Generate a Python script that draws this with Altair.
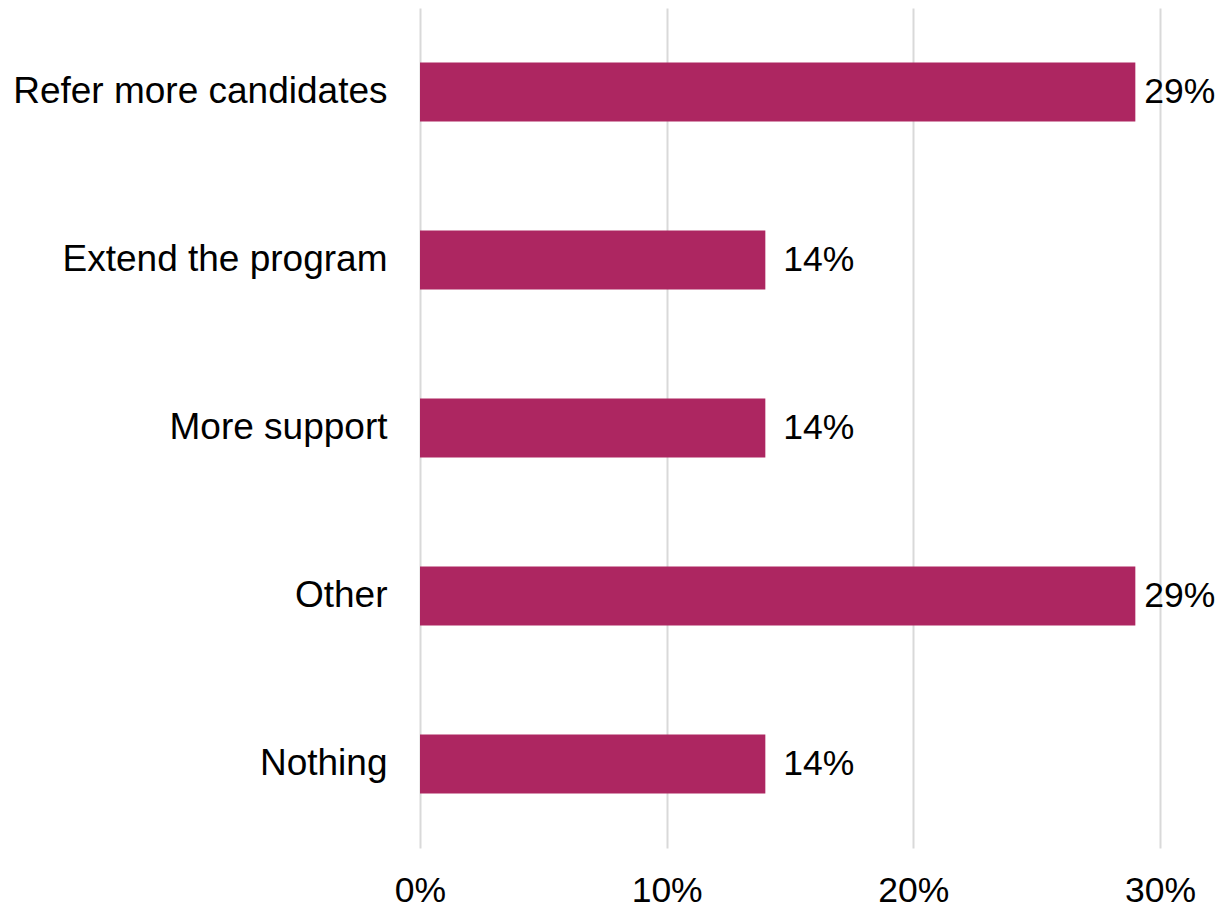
import altair as alt
import pandas as pd

categories = ["Refer more candidates", "Extend the program", "More support", "Other", "Nothing"]
values = [0.29, 0.14, 0.14, 0.29, 0.14]
labels = ["29%", "14%", "14%", "29%", "14%"]
x_ticks = [0, 0.1, 0.2, 0.3]

df = pd.DataFrame({"cat": categories, "val": values, "lab": labels})

FONT = "Liberation Sans"
FS_Y = 37
FS = 35.5

y = alt.Y("cat:N", sort=categories, title=None,
          scale=alt.Scale(paddingInner=0.65, paddingOuter=0.325),
          axis=alt.Axis(domain=False, ticks=False, grid=False, labelFontSize=FS_Y,
                        labelFont=FONT, labelColor="#000000", labelPadding=33,
                        labelLimit=600))
x = alt.X("val:Q", title=None,
          scale=alt.Scale(domain=[0, 0.3], nice=False),
          axis=alt.Axis(values=x_ticks, format=".0%", domain=False, ticks=False,
                        grid=True, gridColor="#d9d9d9", gridWidth=2,
                        labelFlush=False,
                        labelFontSize=FS, labelFont=FONT, labelColor="#000000",
                        labelPadding=25))

bars = alt.Chart(df).mark_bar(color="#AD2661").encode(x=x, y=y)
text_short = alt.Chart(df).transform_filter("datum.val < 0.25").mark_text(
    align="left", baseline="middle", dx=18,
    fontSize=FS, font=FONT, color="#000000").encode(
    x=alt.X("val:Q"), y=alt.Y("cat:N", sort=categories), text="lab:N")
text_long = alt.Chart(df).transform_filter("datum.val >= 0.25").mark_text(
    align="left", baseline="middle", dx=9,
    fontSize=FS, font=FONT, color="#000000").encode(
    x=alt.X("val:Q"), y=alt.Y("cat:N", sort=categories), text="lab:N")

chart = (bars + text_short + text_long).properties(
    width=740, height=840,
    background="#ffffff",
    autosize=alt.AutoSizeParams(type="none"),
    padding={"left": 420, "top": 8, "right": 62, "bottom": 61},
).configure_view(stroke=None, strokeWidth=0)

chart.save("out.html", embed_options={"renderer": "svg", "actions": False})
